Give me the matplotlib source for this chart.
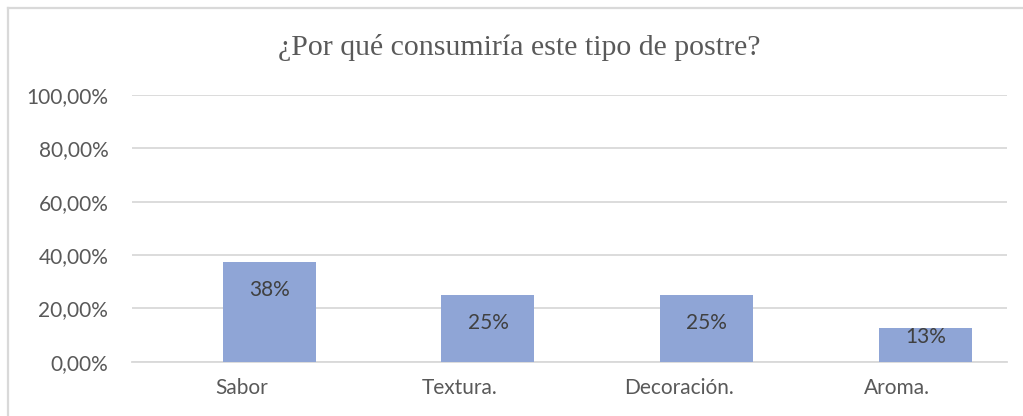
import matplotlib.pyplot as plt
from matplotlib.lines import Line2D

categorias = ['Sabor', 'Textura.', 'Decoración.', 'Aroma.']
valores = [0.375, 0.25, 0.25, 0.125]
etiquetas = ['38%', '25%', '25%', '13%']
ticks_y = [0.0, 0.2, 0.4, 0.6, 0.8, 1.0]
ticks_txt = ['0,00%', '20,00%', '40,00%', '60,00%', '80,00%', '100,00%']

fig = plt.figure(figsize=(10.23, 4.16), dpi=100)
ax = fig.add_axes([0.129, 0.1305, 0.855, 0.641])

x = list(range(len(categorias)))
desp = 0.128  # las barras estan corridas a la derecha en el original
xb = [i + desp for i in x]
ax.bar(xb, valores, width=0.425, color='#8FA5D6', zorder=3)

# etiquetas dentro del extremo de la barra
for i, v in enumerate(valores):
    y_lab = max(v - 0.105, 0.093)
    ax.text(xb[i], y_lab, etiquetas[i], ha='center', va='center', fontsize=15,
            color='#404040', family='Lato', zorder=4)

ax.set_xlim(-0.5, len(categorias) - 0.5)
ax.set_ylim(0, 1.0)
ax.set_yticks(ticks_y)
ax.set_yticklabels(ticks_txt, family='Lato', fontsize=15, color='#595959')
ax.set_xticks(x)
ax.set_xticklabels(categorias, family='Lato', fontsize=15, color='#595959')
ax.tick_params(axis='both', length=0)
ax.tick_params(axis='y', pad=17)
ax.tick_params(axis='x', pad=12)
ax.grid(axis='y', color='#D9D9D9', linewidth=1.3, zorder=0)
for s in ['top', 'right', 'left']:
    ax.spines[s].set_visible(False)
ax.spines['bottom'].set_color('#D9D9D9')
ax.spines['bottom'].set_linewidth(1.3)

fig.text(0.508, 0.885, '¿Por qué consumiría este tipo de postre?', ha='center', va='center',
         family='Liberation Serif', fontsize=21.5, color='#595959')

# borde del grafico
fig.add_artist(Line2D([8/1023, 8/1023], [0, 1 - 8/416], color='#D9D9D9', linewidth=1.6))
fig.add_artist(Line2D([8/1023, 1], [1 - 8/416, 1 - 8/416], color='#D9D9D9', linewidth=1.6))

fig.savefig('out.png', dpi=100)
